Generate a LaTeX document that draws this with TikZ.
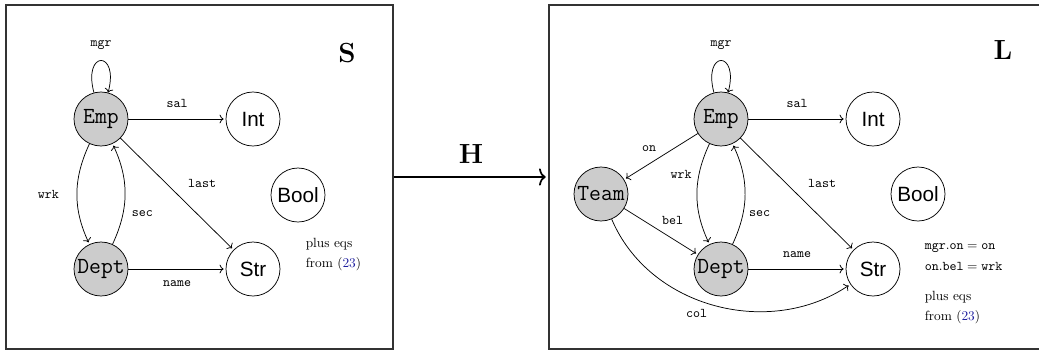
\documentclass[tikz,border=0pt]{standalone}
\usepackage{fontspec}
\usetikzlibrary{arrows.meta}
\newfontfamily\sortfont{Liberation Sans}
\definecolor{refblue}{rgb}{0.12,0.12,0.62}
\begin{document}
\begin{tikzpicture}[x=0.75pt, y=-0.75pt, line width=0.55pt, >={To[length=3pt, width=6.5pt]},
    entity/.style={circle, draw, fill=gray!40, minimum size=40.5pt, inner sep=0pt, font=\LARGE\ttfamily},
    basic/.style={circle, draw, minimum size=40.5pt, inner sep=0pt, font=\sortfont\fontsize{15.5}{18}\selectfont},
    lab/.style={font=\ttfamily},
    panel/.style={draw=black!80, line width=1pt, inner sep=0pt, minimum height=258pt},
    title/.style={font=\huge\bfseries}]
    \useasboundingbox (0,0) rectangle (1039,351);

    % Boxes and the map between them
    \node[panel, minimum width=290.25pt] (sbox) at (199.5,177) {};
    \node[panel, minimum width=369pt] (lbox) at (795,177) {};
    \draw[-{To[length=5pt, width=13pt]}, line width=1.3pt, shorten >=2pt] (sbox.east) -- node[above=6.5pt, title] (hlab) {H} (lbox.west);

    % Schema S
    \node[title] (stitle) at (347,53) {S};
    \node[entity] (semp) at (101,119) {Emp};
    \node[basic] (sint) at (253,119) {Int};
    \node[basic] (sbool) at (298,195) {Bool};
    \node[entity] (sdept) at (101,269) {Dept};
    \node[basic] (sstr) at (253,269) {Str};

    \draw[->] (semp) to[loop above] node[above=5pt, lab] (smgr) {mgr} (semp);
    \draw[->, shorten >=1.5pt] (semp) -- node[above=5pt, lab] (ssal) {sal} (sint);
    \draw[->, shorten >=1.5pt] (semp) -- node[pos=0.52, above right=3pt, lab] (slast) {last} (sstr);
    \draw[->, shorten >=1.5pt] (semp) to[bend right=25] node[left=10pt, lab] (swrk) {wrk} (sdept);
    \draw[->, shorten >=1.5pt] (sdept) to[bend right=25] node[pos=0.3, right=3pt, lab] (ssec) {sec} (semp);
    \draw[->, shorten >=1.5pt] (sdept) -- node[below=5pt, lab] (sname) {name} (sstr);

    \node[anchor=west, align=left, font=\fontsize{10}{15}\selectfont] (seqs) at (301,255)
        {plus eqs\\from (\textcolor{refblue}{23})};

    % Schema L
    \node[title] (ltitle) at (1003,50) {L};
    \node[entity] (lemp) at (721,119) {Emp};
    \node[basic] (lint) at (873,119) {Int};
    \node[entity] (lteam) at (601,194) {Team};
    \node[basic] (lbool) at (918,194) {Bool};
    \node[entity] (ldept) at (721,269) {Dept};
    \node[basic] (lstr) at (873,269) {Str};

    \draw[->] (lemp) to[loop above] node[above=5pt, lab] (lmgr) {mgr} (lemp);
    \draw[->, shorten >=1.5pt] (lemp) -- node[above=5pt, lab] (lsal) {sal} (lint);
    \draw[->, shorten >=1.5pt] (lemp) -- node[pos=0.52, above right=3pt, lab] (llast) {last} (lstr);
    \draw[->, shorten >=1.5pt] (lemp) -- node[above left, lab] (lon) {on} (lteam);
    \draw[->, shorten >=1.5pt] (lemp) to[bend right=25] node[pos=0.3, left=2pt, lab] (lwrk) {wrk} (ldept);
    \draw[->, shorten >=1.5pt] (ldept) to[bend right=25] node[pos=0.3, right=1pt, lab] (lsec) {sec} (lemp);
    \draw[->, shorten >=1.5pt] (lteam) -- node[pos=0.45, above right, lab] (lbel) {bel} (ldept);
    \draw[->, shorten >=1.5pt] (ldept) -- node[above=5pt, lab] (lname) {name} (lstr);
    \draw[->, shorten >=1.5pt] (lteam) to[out=-67, in=-146] node[pos=0.43, below=4pt, lab] (lcol) {col} (lstr);

    \node[anchor=west, align=left, font=\fontsize{10}{15.75}\selectfont] (lrules) at (920,257.5)
        {$\mathtt{mgr.on} = \mathtt{on}$\\$\mathtt{on.bel} = \mathtt{wrk}$};
    \node[anchor=west, align=left, font=\fontsize{10}{15}\selectfont] (leqs) at (920,308)
        {plus eqs\\from (\textcolor{refblue}{23})};
\end{tikzpicture}
\end{document}
